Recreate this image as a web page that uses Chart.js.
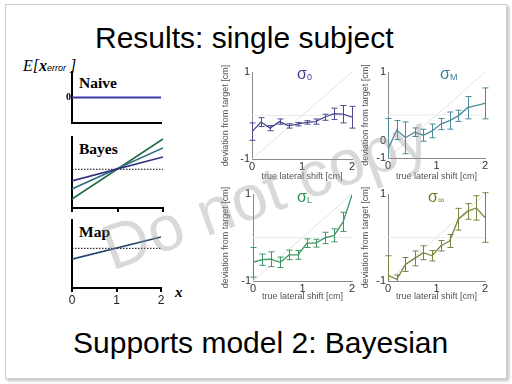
<!DOCTYPE html>
<html>
<head>
<meta charset="utf-8">
<script src="https://cdn.jsdelivr.net/npm/chart.js@4.4.1/dist/chart.umd.min.js"></script>
<style>
  html, body { margin: 0; padding: 0; background: #fff; width: 512px; height: 384px; overflow: hidden; }
  .abs { position: absolute; }
  canvas { position: absolute; }
  .frame { position: absolute; left: 5px; top: 4px; width: 500px; height: 373px; border: 1px solid #cfcfcf; box-shadow: 2px 2px 3px rgba(0,0,0,0.25); background: #fff; }
  .big { position: absolute; font: 30px "Liberation Sans", Arial, sans-serif; line-height: 1; color: #000; white-space: nowrap; }
  .lbl { position: absolute; font: bold 15.5px "Liberation Serif", "Times New Roman", serif; line-height: 1; white-space: nowrap; }
  .sig { position: absolute; font: 16px "Liberation Sans", Arial, sans-serif; line-height: 1; white-space: nowrap; }
  .sig sub { font-size: 9px; vertical-align: baseline; position: relative; top: 1px; }
  .wm { position: absolute; left: 265px; top: 192px; transform: translate(-50%, -50%) rotate(-20deg); font: 64px "Liberation Sans", Arial, sans-serif; color: rgba(150,150,150,0.36); white-space: nowrap; pointer-events: none; }
</style>
</head>
<body>
<div class="frame"></div>

<div class="big" style="left:95px; top:23px;">Results: single subject</div>
<div class="big" style="left:73px; top:328px;">Supports model 2: Bayesian</div>

<div class="abs" style="left:23px; top:58px; font: italic 16px 'Liberation Serif', serif; line-height:1; white-space:nowrap;">E[<b>x</b><span style="font: italic 9px 'Liberation Sans', Arial, sans-serif;">error</span> ]</div>
<div class="lbl" style="left:79px; top:75px;">Naive</div>
<div class="lbl" style="left:79px; top:141px;">Bayes</div>
<div class="lbl" style="left:79px; top:224px;">Map</div>
<div class="abs" style="left:175px; top:285px; font: italic bold 15px 'Liberation Serif', serif; line-height:1;">x</div>

<canvas id="naive"></canvas>
<canvas id="bayes"></canvas>
<canvas id="map"></canvas>
<canvas id="s0"></canvas>
<canvas id="sM"></canvas>
<canvas id="sL"></canvas>
<canvas id="sI"></canvas>

<div class="sig" style="left:297px; top:66px; color:#3d3d8f;">σ<sub>0</sub></div>
<div class="sig" style="left:440px; top:66px; color:#3b7e95;">σ<sub>M</sub></div>
<div class="sig" style="left:297px; top:189px; color:#2f8f55;">σ<sub>L</sub></div>
<div class="sig" style="left:428px; top:189px; color:#6f7a25;">σ<sub>∞</sub></div>

<div class="wm">Do not copy</div>

<script>
// datos de las curvas de la izquierda (modelos)
const leftX = [0, 2];
const naiveVals = [0, 0];
const bayesNavy = [-0.36, 0.38];
const bayesTeal = [-0.61, 0.66];
const bayesGreen = [-0.92, 0.94];
const mapVals = [-0.38, 0.40];
const zeroLine = [0, 0];
const leftXTicks = [0, 1, 2];

// datos del sujeto (derecha)
const shiftX = [0, 0.18, 0.36, 0.55, 0.73, 0.91, 1.09, 1.27, 1.45, 1.64, 1.82, 2.0];
const shiftXM = [0, 0.18, 0.36, 0.55, 0.73, 0.91, 1.09, 1.27, 1.45, 1.64, 2.0];
const sigma0Vals = [-0.37, -0.15, -0.29, -0.14, -0.24, -0.20, -0.16, -0.14, -0.04, 0.04, 0.03, -0.04];
const sigma0Errs = [0.20, 0.10, 0.06, 0.06, 0.05, 0.04, 0.04, 0.06, 0.07, 0.13, 0.20, 0.25];
const sigmaMVals = [-0.80, -0.35, -0.53, -0.40, -0.47, -0.37, -0.21, -0.13, -0.02, 0.17, 0.27];
const sigmaMErrs = [0.72, 0.22, 0.37, 0.10, 0.14, 0.16, 0.13, 0.20, 0.13, 0.26, 0.36];
const sigmaLVals = [-0.57, -0.51, -0.50, -0.57, -0.40, -0.40, -0.13, -0.13, -0.01, 0.05, 0.36, 0.98];
const sigmaLErrs = [0.34, 0.13, 0.17, 0.12, 0.11, 0.10, 0.10, 0.09, 0.13, 0.15, 0.22, 0];
const sigmaInfVals = [-0.87, -0.96, -0.62, -0.48, -0.35, -0.42, -0.19, -0.08, 0.42, 0.60, 0.68, 0.46];
const sigmaInfErrs = [0.45, 0.10, 0.16, 0.17, 0.16, 0.12, 0.12, 0.15, 0.25, 0.18, 0.28, 0.57];
const diagLine = [-1, 1];
const rightXTicks = [0, 1, 2];
const yTicks = [-1, 1];
const yTickLabels = ['-1', '1'];
const yTicksM = [-1, -0.6, 1];
const yTickLabelsM = ['-1', '0', '1'];

Chart.defaults.font.family = "'Liberation Sans', Arial, sans-serif";
Chart.defaults.animation = false;

const pts = (xs, ys) => xs.map((x, i) => ({ x: x, y: ys[i] }));

// barras de error dibujadas con las escalas del gráfico
const errorBars = {
  id: 'errorBars',
  afterDatasetsDraw(chart, args, opts) {
    if (!opts.errs) return;
    const { ctx, chartArea: a, scales: { x, y } } = chart;
    const data = chart.data.datasets[0].data;
    ctx.save();
    ctx.beginPath();
    ctx.rect(a.left - 4, a.top - 2, a.right - a.left + 8, a.bottom - a.top + 2);
    ctx.clip();
    ctx.strokeStyle = opts.color;
    ctx.lineWidth = 1;
    data.forEach((p, i) => {
      const e = opts.errs[i];
      if (!e) return;
      const px = Math.round(x.getPixelForValue(p.x)) + 0.5;
      const y1 = y.getPixelForValue(p.y + e);
      const y2 = y.getPixelForValue(p.y - e);
      ctx.beginPath();
      ctx.moveTo(px, y1); ctx.lineTo(px, y2);
      ctx.moveTo(px - 3, y1); ctx.lineTo(px + 3, y1);
      ctx.moveTo(px - 3, y2); ctx.lineTo(px + 3, y2);
      ctx.stroke();
    });
    ctx.restore();
  }
};

function setup(id, rect) {
  const c = document.getElementById(id);
  c.style.left = rect.x + 'px';
  c.style.top = rect.y + 'px';
  c.width = rect.w;
  c.height = rect.h;
  return c;
}

function fit(rect, area) {
  return {
    padding: { top: area.t - rect.y, right: rect.x + rect.w - area.r, left: 0, bottom: 0 },
    yw: area.l - rect.x,
    xh: rect.y + rect.h - area.b
  };
}

function leftPanel(id, rect, area, datasets, yMin, yMax, extra) {
  const f = fit(rect, area);
  const c = setup(id, rect);
  return new Chart(c, {
    type: 'line',
    data: { datasets: datasets },
    options: {
      responsive: false,
      devicePixelRatio: 1,
      layout: { padding: f.padding },
      plugins: { legend: { display: false }, tooltip: { enabled: false } },
      elements: { point: { radius: 0 } },
      scales: {
        x: {
          type: 'linear', min: 0, max: 2,
          afterBuildTicks: s => { s.ticks = leftXTicks.map(v => ({ value: v })); },
          ticks: { display: extra.xLabels, color: '#222', font: { size: 12 }, padding: 1, maxRotation: 0 },
          grid: { display: extra.xTicks, drawOnChartArea: false, drawTicks: extra.xTicks, tickLength: 4, color: '#000', lineWidth: 2 },
          border: { color: '#000', width: 2 },
          afterFit: s => { s.height = f.xh; }
        },
        y: {
          min: yMin, max: yMax,
          afterBuildTicks: s => { s.ticks = extra.yZero ? [{ value: 0 }] : []; },
          ticks: { display: !!extra.yZero, callback: () => '0', color: '#000', padding: 1,
                   font: { size: 10, weight: 'bold', family: "'Liberation Serif', serif" } },
          grid: { display: false, drawTicks: false },
          border: { color: '#000', width: 2 },
          afterFit: s => { s.width = f.yw; }
        }
      }
    }
  });
}

const dotted = data => ({ data: pts(leftX, data), borderColor: '#000', borderWidth: 1, borderDash: [1.5, 1.5] });

leftPanel('naive', { x: 50, y: 64, w: 120, h: 66 }, { l: 72, t: 72, r: 161, b: 125 },
  [{ data: pts(leftX, naiveVals), borderColor: '#3a3aa6', borderWidth: 2 }],
  -1, 1, { yZero: true, xTicks: false, xLabels: false });

leftPanel('bayes', { x: 50, y: 130, w: 120, h: 86 }, { l: 72, t: 137, r: 163, b: 208 },
  [
    { data: pts(leftX, bayesNavy), borderColor: '#2e2e82', borderWidth: 1.6 },
    { data: pts(leftX, bayesTeal), borderColor: '#2f6f80', borderWidth: 1.6 },
    { data: pts(leftX, bayesGreen), borderColor: '#236b4a', borderWidth: 1.6 },
    dotted(zeroLine)
  ],
  -1.2, 1, { yZero: false, xTicks: true, xLabels: false });

leftPanel('map', { x: 50, y: 216, w: 125, h: 92 }, { l: 72, t: 220, r: 161, b: 288 },
  [
    { data: pts(leftX, mapVals), borderColor: '#24466a', borderWidth: 1.6 },
    dotted(zeroLine)
  ],
  -1.4, 1, { yZero: false, xTicks: true, xLabels: true });

function rightPanel(id, rect, area, xs, vals, errs, color, ticks, labels) {
  const f = fit(rect, area);
  const c = setup(id, rect);
  return new Chart(c, {
    type: 'line',
    data: {
      datasets: [
        { data: pts(xs, vals), borderColor: color, borderWidth: 1.3 },
        { data: pts(leftX, diagLine), borderColor: '#e2e2e2', borderWidth: 1 },
        { data: pts(leftX, zeroLine), borderColor: '#ececec', borderWidth: 1 }
      ]
    },
    options: {
      responsive: false,
      devicePixelRatio: 1,
      layout: { padding: f.padding },
      elements: { point: { radius: 0 } },
      plugins: { legend: { display: false }, tooltip: { enabled: false }, errorBars: { errs: errs, color: color } },
      scales: {
        x: {
          type: 'linear', min: 0, max: 2,
          afterBuildTicks: s => { s.ticks = rightXTicks.map(v => ({ value: v })); },
          ticks: { color: '#333', font: { size: 11 }, padding: 1, maxRotation: 0 },
          grid: { display: false, drawTicks: false },
          border: { color: '#8a8a8a', width: 1 },
          title: { display: true, text: 'true lateral shift [cm]', color: '#555', font: { size: 9 }, padding: 0 },
          afterFit: s => { s.height = f.xh; }
        },
        y: {
          min: -1, max: 1,
          afterBuildTicks: s => { s.ticks = ticks.map(v => ({ value: v })); },
          ticks: { color: '#333', font: { size: 11 }, padding: 2, callback: (v, i) => labels[i] },
          grid: { display: false, drawTicks: false },
          border: { color: '#8a8a8a', width: 1 },
          title: { display: true, text: 'deviation from target [cm]', color: '#555', font: { size: 9 }, padding: 0 },
          afterFit: s => { s.width = f.yw; }
        }
      }
    },
    plugins: [errorBars]
  });
}

rightPanel('s0', { x: 220, y: 60, w: 140, h: 122 }, { l: 252, t: 72, r: 352, b: 159 },
  shiftX, sigma0Vals, sigma0Errs, '#4b4b8e', yTicks, yTickLabels);
rightPanel('sM', { x: 360, y: 60, w: 133, h: 122 }, { l: 388, t: 72, r: 485, b: 158 },
  shiftXM, sigmaMVals, sigmaMErrs, '#4a8a9a', yTicksM, yTickLabelsM);
rightPanel('sL', { x: 220, y: 182, w: 140, h: 120 }, { l: 253, t: 194, r: 352, b: 281 },
  shiftX, sigmaLVals, sigmaLErrs, '#3c9862', yTicks, yTickLabels);
rightPanel('sI', { x: 360, y: 182, w: 133, h: 120 }, { l: 388, t: 194, r: 485, b: 281 },
  shiftX, sigmaInfVals, sigmaInfErrs, '#79843f', yTicks, yTickLabels);
</script>
</body>
</html>
